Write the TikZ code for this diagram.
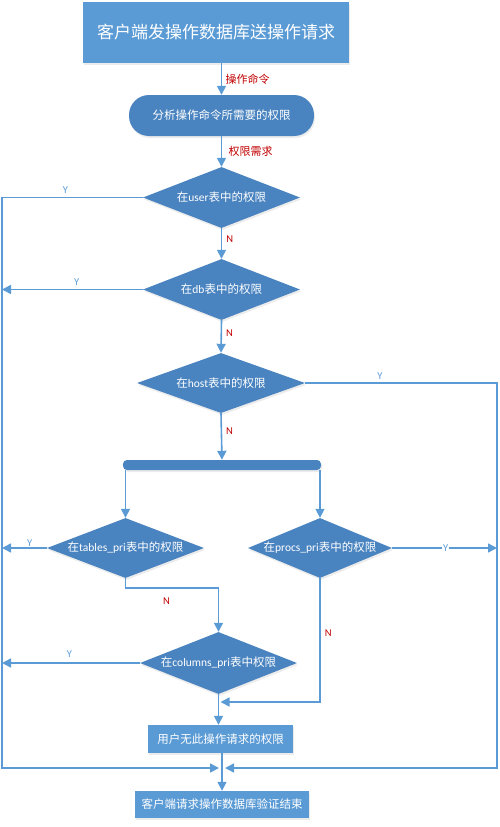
\documentclass[tikz,border=0pt]{standalone}
\usepackage{fontspec}
\setmainfont{Noto Sans CJK SC}
\newfontfamily\lat{Carlito}
\usepackage{xcolor}
\usetikzlibrary{shapes.geometric,arrows.meta,positioning,calc,shadows}
\definecolor{boxblue}{HTML}{5B9BD5}
\definecolor{darkblue}{HTML}{4A84C0}
\definecolor{lineblue}{HTML}{5B9BD5}
\definecolor{labelred}{HTML}{C00000}

\begin{document}
\begin{tikzpicture}[x=1pt, y=-1pt,
    flow/.style={draw=lineblue, line width=1.6pt, -{Triangle[width=9pt,length=9pt]}},
    box/.style={rectangle, fill=boxblue, text=white, inner sep=0pt,
        drop shadow={shadow xshift=1pt, shadow yshift=-2pt, opacity=0.15}},
    check/.style={diamond, fill=darkblue, inner sep=0pt,
        drop shadow={shadow xshift=1pt, shadow yshift=-2pt, opacity=0.15}},
    checktext/.style={text=white, font=\fontsize{11.5}{13}\selectfont},
    redlbl/.style={text=labelred, font=\fontsize{11}{13}\selectfont},
    ylbl/.style={text=lineblue, inner sep=1pt, font=\lat\fontsize{10.5}{11}\selectfont},
    nlbl/.style={text=labelred, inner sep=1pt, font=\lat\fontsize{10.5}{11}\selectfont}]
    \useasboundingbox (0,0) rectangle (500,827);

    % Boxes
    \node[box, minimum width=266pt, minimum height=61pt, font=\fontsize{17}{20}\selectfont]
        (request) at (216,32.5) {客户端发操作数据库送操作请求};
    \node[box, fill=darkblue, rounded corners=20pt, minimum width=185pt, minimum height=41pt,
        font=\fontsize{11.5}{13}\selectfont] (analyse) at (221.5,115.5) {分析操作命令所需要的权限};

    % Checks
    \node[check, minimum width=157pt, minimum height=61pt,
        label={[checktext]center:在{\lat user}表中的权限}] (user) at (221.5,197.5) {};
    \node[check, minimum width=157pt, minimum height=61pt,
        label={[checktext]center:在{\lat db}表中的权限}] (db) at (221.5,289.5) {};
    \node[check, minimum width=168pt, minimum height=60pt,
        label={[checktext]center:在{\lat host}表中的权限}] (host) at (221,383) {};
    \node[box, fill=darkblue, rounded corners=4pt, minimum width=198pt, minimum height=10pt]
        (split) at (222,465) {};
    \node[check, minimum width=157pt, minimum height=60pt,
        label={[checktext]center:在{\lat tables\_pri}表中的权限}] (tables) at (125.5,548) {};
    \node[check, minimum width=144pt, minimum height=60pt,
        label={[checktext]center:在{\lat procs\_pri}表中的权限}] (procs) at (320,548) {};
    \node[check, minimum width=157pt, minimum height=62pt,
        label={[checktext]center:在{\lat columns\_pri}表中权限}] (columns) at (218.5,663) {};

    % End boxes
    \node[box, minimum width=145pt, minimum height=28pt, font=\fontsize{11.5}{13}\selectfont]
        (nogrant) at (220.5,739) {用户无此操作请求的权限};
    \node[box, minimum width=174pt, minimum height=27pt, font=\fontsize{11.5}{13}\selectfont]
        (finish) at (222,804.5) {客户端请求操作数据库验证结束};

    % Rails
    \coordinate (railL) at (2,0);
    \coordinate (railR) at (497,0);
    \coordinate (mergeL) at (219,768);
    \coordinate (mergeR) at (225,768);
    \coordinate (procsjoin) at (220.5,702);

    % Main flow
    \draw[flow] (analyse.north |- request.south) -- node[redlbl, right, pos=0.5] {操作命令} (analyse.north);
    \draw[flow] (analyse.south) -- node[redlbl, right=3pt, pos=0.5] {权限需求} (user.north);
    \draw[flow] (user.south) -- node[nlbl, right=3pt, pos=0.35] {N} (db.north);
    \draw[flow] (db.south) -- node[nlbl, right=3pt, pos=0.4] {N} (host.north);
    \draw[flow] (host.south) -- node[nlbl, right=3pt, pos=0.38] {N} (split.north);
    \draw[flow] (tables.north |- split.south) -- (tables.north);
    \draw[flow] (procs.north |- split.south) -- (procs.north);
    \draw[flow] (tables.south) -- ++(0,10) -| node[nlbl, pos=0.22, below=8pt] {N} (columns.north);
    \draw[flow] (procs.south) |- node[nlbl, pos=0.22, right=3pt] {N} (procsjoin);
    \draw[flow] (columns.south) -- (columns.south |- nogrant.north);
    \draw[flow] (nogrant.south -| finish.north) -- (finish.north);

    % Y branches
    \draw[flow] (user.west) -- node[ylbl, above=2pt, pos=0.55] {Y} (user.west -| railL) |- (mergeL);
    \draw[flow] (db.west) -- node[ylbl, above=2pt, pos=0.47] {Y} (db.west -| railL);
    \draw[flow] (host.east) -- node[ylbl, above=2pt, pos=0.39] {Y} (host.east -| railR) |- (mergeR);
    \draw[flow] (tables.west) -- node[ylbl, above, pos=0.38] {Y} (tables.west -| railL);
    \draw[flow] (procs.east) -- node[ylbl, fill=white, pos=0.51] {Y} (procs.east -| railR);
    \draw[flow] (columns.west) -- node[ylbl, above=4pt, pos=0.51] {Y} (columns.west -| railL);
\end{tikzpicture}
\end{document}
